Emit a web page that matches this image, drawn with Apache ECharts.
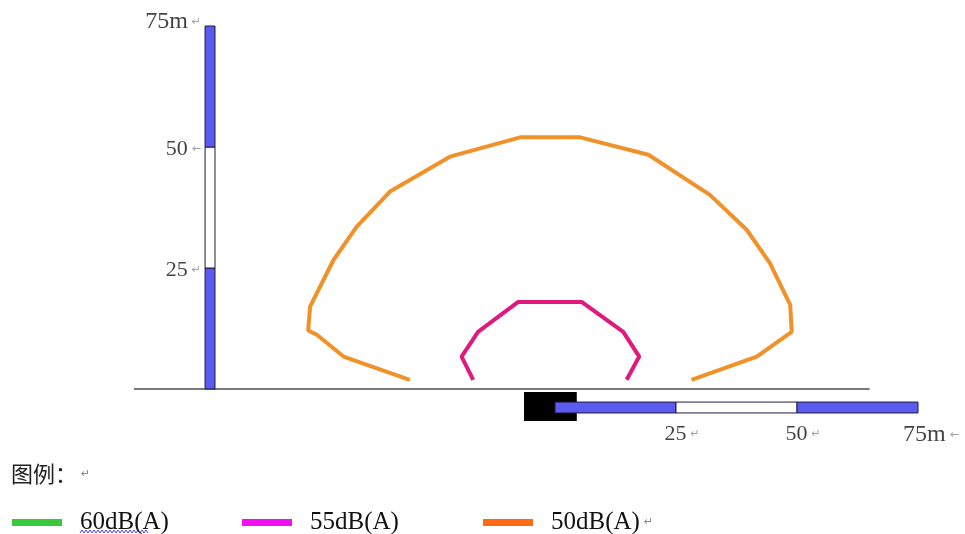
<!DOCTYPE html>
<html><head><meta charset="utf-8">
<script src="https://cdn.jsdelivr.net/npm/echarts@6/dist/echarts.min.js"></script>
<style>html,body{margin:0;padding:0;background:#fff}#c{width:965px;height:534px}</style>
</head><body><div id="c"></div>
<script>
// ---- data (metres) ----
const levels = ['60dB(A)', '55dB(A)', '50dB(A)'];
const contour60 = [];
const contour55 = [[-16.9,1.9],[-19.3,6.7],[-15.9,11.8],[-7.6,18.0],[5.5,18.0],[14.1,11.8],[17.4,6.7],[14.8,1.9]];
const contour50 = [[-30.0,1.9],[-43.7,6.7],[-49.2,11.2],[-51.0,12.1],[-50.6,17.0],[-45.8,26.6],[-41.0,33.5],[-34.1,40.8],[-21.7,48.0],[-7.2,52.0],[5.2,52.0],[19.3,48.4],[32.0,40.1],[39.6,32.9],[44.4,26.0],[48.6,17.4],[48.9,11.8],[41.7,6.7],[28.2,1.9]];
const scaleTicks = [0, 25, 50, 75];
const scaleTickLabels = ['25', '50', '75m'];
const groundExtent = [-87, 65];
const noiseSource = [[-6.4, -0.6], [4.5, -6.6]];

// ---- layout / style ----
const serif = "'Liberation Serif','Times New Roman',serif";
const VBAR_X = [-72.3, -70.25];
const HBAR_Y = [-2.7, -4.95];
const BLUE = '#5b5bf2';
const TXT = '#111';
const lineColors = ['#3cc83c', '#e2197c', '#f0912a'];
const legendColors = ['#3cc83c', '#f010f0', '#ff6a14'];
const legendLeft = [12, 242, 483];

const segs = [];
for (let i = 0; i < scaleTicks.length - 1; i++) segs.push([scaleTicks[i], scaleTicks[i + 1], i % 2]);

const rich = {
  t: {fontFamily: serif, fontSize: 22, color: TXT},
  b: {fontFamily: serif, fontSize: 24, color: TXT},
  g: {fontFamily: serif, fontSize: 25, color: TXT},
  r: {fontFamily: 'DejaVu Sans', fontSize: 11, color: '#888', padding: [0, 0, 0, 4]}
};
const arrowFor = ['↵', '←', '↵'];
const harrowFor = ['↵', '↵', '←'];

const chart = echarts.init(document.getElementById('c'));
const wavy = [];
for (let x = 80, k = 0; x <= 148; x += 2, k++) wavy.push([x, k % 2 ? 530 : 533]);

chart.setOption({
  animation: false,
  backgroundColor: '#fff',
  grid: {left: 119.4, right: 22.8, top: 1.8, bottom: 9.48},
  xAxis: {type: 'value', min: -90, max: 80, show: false},
  yAxis: {type: 'value', min: -28, max: 80, show: false},
  title: {
    text: '图例：{r|↵}', left: 11, top: 463, padding: 0,
    textStyle: {fontFamily: "'Noto Sans CJK SC'", fontSize: 22, fontWeight: 'normal', color: '#222',
      rich: {r: {fontFamily: 'DejaVu Sans', fontSize: 11, color: '#888', padding: [0, 0, 0, 4]}}}
  },
  legend: levels.map((n, i) => ({
    data: [{name: n, itemStyle: {color: legendColors[i], borderWidth: 0}}],
    left: legendLeft[i], top: 510, padding: 0, icon: 'rect', itemWidth: 50, itemHeight: 7,
    selectedMode: false,
    formatter: i === 2 ? '{g|{name}}{r|↵}' : '{g|{name}}',
    textStyle: {fontFamily: serif, fontSize: 25, color: TXT, padding: [0, 0, 0, 13], rich: rich}
  })),
  graphic: [{type: 'polyline', shape: {points: wavy}, style: {stroke: '#4a4ae0', lineWidth: 1, fill: null}}],
  series: [
    {type: 'line', name: 'ground', data: [[groundExtent[0], 0], [groundExtent[1], 0]], showSymbol: false,
      lineStyle: {color: '#7a7a7a', width: 2}, z: 1, silent: true},
    {type: 'custom', name: 'source', z: 2, data: [noiseSource[0].concat(noiseSource[1])],
      renderItem: (p, api) => {
        const a = api.coord([api.value(0), api.value(1)]), b = api.coord([api.value(2), api.value(3)]);
        return {type: 'rect', shape: {x: a[0], y: a[1], width: b[0] - a[0], height: b[1] - a[1]}, style: {fill: '#000'}};
      }},
    {type: 'custom', name: 'vbar', z: 3, data: segs,
      renderItem: (p, api) => {
        const a = api.coord([VBAR_X[0], api.value(1)]), b = api.coord([VBAR_X[1], api.value(0)]);
        return {type: 'rect', shape: {x: a[0], y: a[1], width: b[0] - a[0], height: b[1] - a[1]},
          style: {fill: api.value(2) ? '#fff' : BLUE, stroke: '#1c1c3c', lineWidth: 1}};
      }},
    {type: 'custom', name: 'hbar', z: 3, data: segs,
      renderItem: (p, api) => {
        const a = api.coord([api.value(0), HBAR_Y[0]]), b = api.coord([api.value(1), HBAR_Y[1]]);
        return {type: 'rect', shape: {x: a[0], y: a[1], width: b[0] - a[0], height: b[1] - a[1]},
          style: {fill: api.value(2) ? '#fff' : BLUE, stroke: '#1c1c3c', lineWidth: 1}};
      }},
    {type: 'scatter', name: 'vlabels', symbolSize: 0, z: 4, silent: true,
      data: scaleTickLabels.map((l, i) => ({value: [VBAR_X[0], scaleTicks[i + 1]],
        label: {show: true, position: 'left', distance: 4, offset: [0, i === 2 ? -4 : 2],
          formatter: '{' + (i === 2 ? 'b' : 't') + '|' + l + '}{r|' + arrowFor[i] + '}', rich: rich}}))},
    {type: 'scatter', name: 'hlabels', symbolSize: 0, z: 4, silent: true,
      data: scaleTickLabels.map((l, i) => ({value: [scaleTicks[i + 1], HBAR_Y[1]],
        label: {show: true, position: 'bottom', distance: 10, offset: [i === 2 ? 13 : 6, 0],
          formatter: '{' + (i === 2 ? 'b' : 't') + '|' + l + '}{r|' + harrowFor[i] + '}', rich: rich}}))},
    {type: 'line', name: levels[0], data: contour60, showSymbol: false, color: lineColors[0], lineStyle: {width: 4, color: lineColors[0]}, z: 5},
    {type: 'line', name: levels[1], data: contour55, showSymbol: false, color: lineColors[1], lineStyle: {width: 4, color: lineColors[1]}, z: 5},
    {type: 'line', name: levels[2], data: contour50, showSymbol: false, color: lineColors[2], lineStyle: {width: 4, color: lineColors[2]}, z: 5}
  ]
});
</script></body></html>
